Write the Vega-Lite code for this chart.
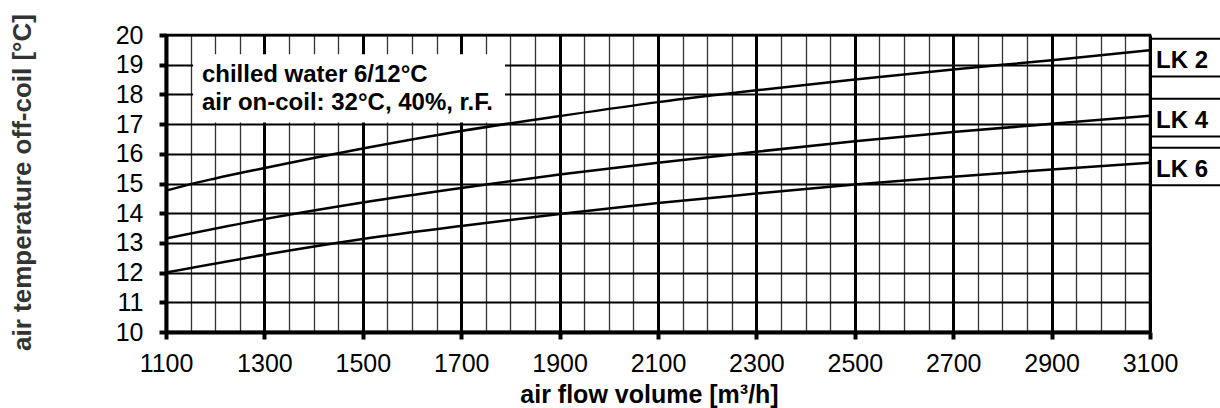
{
  "$schema": "https://vega.github.io/schema/vega-lite/v6.json",
  "width": 984,
  "height": 297,
  "autosize": {"type": "none"},
  "padding": {"left": 166, "top": 35, "right": 70, "bottom": 76},
  "background": "white",
  "config": {
    "view": {"stroke": "black", "strokeWidth": 2.5},
    "font": "Liberation Sans"
  },
  "datasets": {
    "curves": [
      {"series": "LK 2", "flow": 1100, "temp": 14.76},
      {"series": "LK 2", "flow": 1150, "temp": 14.98},
      {"series": "LK 2", "flow": 1200, "temp": 15.17},
      {"series": "LK 2", "flow": 1300, "temp": 15.52},
      {"series": "LK 2", "flow": 1400, "temp": 15.86},
      {"series": "LK 2", "flow": 1500, "temp": 16.18},
      {"series": "LK 2", "flow": 1700, "temp": 16.77},
      {"series": "LK 2", "flow": 1900, "temp": 17.27},
      {"series": "LK 2", "flow": 2100, "temp": 17.74},
      {"series": "LK 2", "flow": 2300, "temp": 18.14},
      {"series": "LK 2", "flow": 2500, "temp": 18.5},
      {"series": "LK 2", "flow": 2700, "temp": 18.84},
      {"series": "LK 2", "flow": 2900, "temp": 19.15},
      {"series": "LK 2", "flow": 3100, "temp": 19.49},
      {"series": "LK 4", "flow": 1100, "temp": 13.15},
      {"series": "LK 4", "flow": 1300, "temp": 13.8},
      {"series": "LK 4", "flow": 1500, "temp": 14.36},
      {"series": "LK 4", "flow": 1700, "temp": 14.85},
      {"series": "LK 4", "flow": 1900, "temp": 15.3},
      {"series": "LK 4", "flow": 2100, "temp": 15.7},
      {"series": "LK 4", "flow": 2300, "temp": 16.07},
      {"series": "LK 4", "flow": 2500, "temp": 16.42},
      {"series": "LK 4", "flow": 2700, "temp": 16.73},
      {"series": "LK 4", "flow": 2900, "temp": 17.01},
      {"series": "LK 4", "flow": 3100, "temp": 17.28},
      {"series": "LK 6", "flow": 1100, "temp": 12.0},
      {"series": "LK 6", "flow": 1300, "temp": 12.6},
      {"series": "LK 6", "flow": 1500, "temp": 13.13},
      {"series": "LK 6", "flow": 1700, "temp": 13.57},
      {"series": "LK 6", "flow": 1900, "temp": 13.97},
      {"series": "LK 6", "flow": 2100, "temp": 14.34},
      {"series": "LK 6", "flow": 2300, "temp": 14.66},
      {"series": "LK 6", "flow": 2500, "temp": 14.97},
      {"series": "LK 6", "flow": 2700, "temp": 15.23},
      {"series": "LK 6", "flow": 2900, "temp": 15.47},
      {"series": "LK 6", "flow": 3100, "temp": 15.7}
    ],
    "box": [{"flow": 1155, "flow2": 1789, "temp": 17.05, "temp2": 19.35}],
    "notes": [
      {"flow": 1173, "temp": 18.42, "label": "chilled water 6/12°C"},
      {"flow": 1173, "temp": 17.47, "label": "air on-coil: 32°C, 40%, r.F."}
    ],
    "lklines": [
      {"flow": 3100, "flow2": 3245, "temp": 19.87},
      {"flow": 3100, "flow2": 3245, "temp": 18.6},
      {"flow": 3100, "flow2": 3245, "temp": 17.85},
      {"flow": 3100, "flow2": 3245, "temp": 16.58},
      {"flow": 3100, "flow2": 3245, "temp": 16.2},
      {"flow": 3100, "flow2": 3245, "temp": 14.94}
    ],
    "lklabels": [
      {"flow": 3100, "temp": 18.88, "label": "LK 2"},
      {"flow": 3100, "temp": 16.86, "label": "LK 4"},
      {"flow": 3100, "temp": 15.23, "label": "LK 6"}
    ]
  },
  "encoding": {
    "x": {
      "field": "flow",
      "type": "quantitative",
      "scale": {"domain": [1100, 3100], "nice": false, "zero": false},
      "axis": {
        "values": [1100,1150,1200,1250,1300,1350,1400,1450,1500,1550,1600,1650,1700,1750,1800,1850,1900,1950,2000,2050,2100,2150,2200,2250,2300,2350,2400,2450,2500,2550,2600,2650,2700,2750,2800,2850,2900,2950,3000,3050,3100],
        "format": "d",
        "labelExpr": "datum.value % 200 === 100 ? datum.label : ''",
        "labelFlush": false,
        "labelOverlap": false,
        "labelBound": false,
        "labelFontSize": 25,
        "labelColor": "black",
        "labelFont": "Liberation Sans",
        "labelPadding": 12,
        "grid": true,
        "gridColor": {"condition": {"test": "datum.value % 200 === 100", "value": "black"}, "value": "#333333"},
        "gridWidth": {"condition": {"test": "datum.value % 200 === 100", "value": 3}, "value": 1.3},
        "gridOpacity": 1,
        "domainColor": "black",
        "domainWidth": 4,
        "tickColor": "black",
        "tickWidth": 4,
        "tickSize": 7,
        "tickOpacity": {"condition": {"test": "datum.value % 200 === 100", "value": 1}, "value": 0},
        "title": "air flow volume [m³/h]",
        "titleFontSize": 25,
        "titleFontWeight": "bold",
        "titleColor": "black",
        "titleFont": "Liberation Sans",
        "titleX": 483,
        "titleY": 70,
        "titleBaseline": "alphabetic",
        "titleAlign": "center"
      }
    },
    "y": {
      "field": "temp",
      "type": "quantitative",
      "scale": {"domain": [10, 20], "nice": false, "zero": false},
      "axis": {
        "values": [10,11,12,13,14,15,16,17,18,19,20],
        "format": "d",
        "labelFontSize": 25,
        "labelColor": "black",
        "labelFont": "Liberation Sans",
        "labelPadding": 16,
        "labelFlush": false,
        "labelOverlap": false,
        "labelBound": false,
        "grid": true,
        "gridColor": "black",
        "gridWidth": 2,
        "gridOpacity": 1,
        "domainColor": "black",
        "domainWidth": 4,
        "tickColor": "black",
        "tickWidth": 4,
        "tickSize": 7,
        "title": "air temperature off-coil [°C]",
        "titleFontSize": 26,
        "titleFontWeight": "bold",
        "titleColor": "#333333",
        "titleFont": "Liberation Sans",
        "titleAngle": -90,
        "titleX": -136,
        "titleY": 147,
        "titleBaseline": "alphabetic",
        "titleAlign": "center"
      }
    }
  },
  "layer": [
    {
      "data": {"name": "box"},
      "mark": {"type": "rect", "fill": "white", "stroke": null},
      "encoding": {
        "x2": {"field": "flow2"},
        "y2": {"field": "temp2"}
      }
    },
    {
      "data": {"name": "curves"},
      "mark": {"type": "line", "color": "black", "strokeWidth": 2.5, "interpolate": "monotone"},
      "encoding": {
        "detail": {"field": "series"}
      }
    },
    {
      "data": {"name": "notes"},
      "mark": {"type": "text", "align": "left", "baseline": "alphabetic", "fontSize": 24, "fontWeight": "bold", "font": "Liberation Sans", "color": "black"},
      "encoding": {
        "text": {"field": "label"}
      }
    },
    {
      "data": {"name": "lklines"},
      "mark": {"type": "rule", "color": "black", "strokeWidth": 2},
      "encoding": {
        "x2": {"field": "flow2"}
      }
    },
    {
      "data": {"name": "lklabels"},
      "mark": {"type": "text", "align": "left", "baseline": "alphabetic", "dx": 6, "fontSize": 24, "fontWeight": "bold", "font": "Liberation Sans", "color": "black"},
      "encoding": {
        "text": {"field": "label"}
      }
    }
  ]
}
